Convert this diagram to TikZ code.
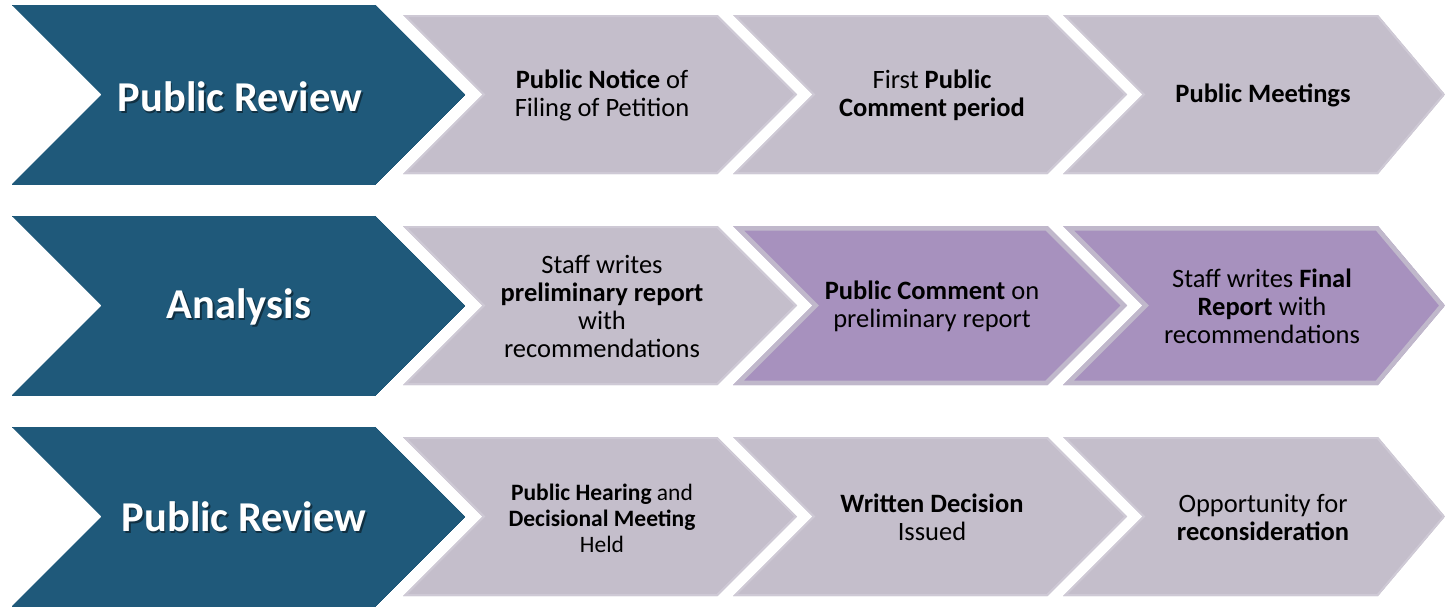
\documentclass[tikz,border=0pt]{standalone}
\usepackage{fontspec}
\setmainfont{Carlito}
\definecolor{cblue}{RGB}{31,89,122}
\definecolor{cgrey}{RGB}{196,190,203}
\definecolor{cgreyedge}{RGB}{206,201,213}
\definecolor{cpurple}{RGB}{167,145,190}
\definecolor{cpurpleedge}{RGB}{192,184,203}
% #1 fill, #2 edge colour, #3 edge width, #4 x, #5 y top, #6 width, #7 height, #8 right depth
\newcommand\chevshape[8]{%
  \fill[#1] (#4,#5) -- (#4+#6-#8,#5) -- (#4+#6,#5+#7/2) -- (#4+#6-#8,#5+#7) -- (#4,#5+#7) -- (#4+#7/2,#5+#7/2) -- cycle;
  \begin{scope}
    \clip (#4,#5) -- (#4+#6-#8,#5) -- (#4+#6,#5+#7/2) -- (#4+#6-#8,#5+#7) -- (#4,#5+#7) -- (#4+#7/2,#5+#7/2) -- cycle;
    \draw[#2, line width=#3*2pt, line join=miter] (#4,#5) -- (#4+#6-#8,#5) -- (#4+#6,#5+#7/2) -- (#4+#6-#8,#5+#7) -- (#4,#5+#7) -- (#4+#7/2,#5+#7/2) -- cycle;
  \end{scope}}
\tikzset{
  steptext/.style={align=center, inner sep=0pt, text=black, font=\fontsize{26.5}{28}\selectfont},
  smalltext/.style={align=center, inner sep=0pt, text=black, font=\fontsize{23.5}{26}\selectfont},
  phasetext/.style={inner sep=0pt, text=white, font=\fontsize{42.5}{48}\selectfont\bfseries},
  phaseshadow/.style={inner sep=0pt, text=black, opacity=0.45, font=\fontsize{42.5}{48}\selectfont\bfseries}
}
\begin{document}
\begin{tikzpicture}[x=1pt,y=-1pt]
\useasboundingbox (0,0) rectangle (1445,606);
\fill[white] (0,0) rectangle (1445,606);
% row 1
\chevshape{cblue}{cblue}{0}{12}{5}{453}{179}{89.5}
\chevshape{cgrey}{cgreyedge}{2}{403}{15}{394}{159}{79.5}
\chevshape{cgrey}{cgreyedge}{2}{733}{15}{394}{159}{79.5}
\chevshape{cgrey}{cgreyedge}{2}{1063}{15}{382}{159}{67}
% row 2
\chevshape{cblue}{cblue}{0}{12}{216}{453}{179}{89.5}
\chevshape{cgrey}{cgreyedge}{2}{403}{226}{394}{159}{79.5}
\chevshape{cpurple}{cpurpleedge}{4.5}{733}{226}{394}{159}{79.5}
\chevshape{cpurple}{cpurpleedge}{4.5}{1063}{226}{382}{159}{67}
% row 3
\chevshape{cblue}{cblue}{0}{12}{427}{453}{179}{89.5}
\chevshape{cgrey}{cgreyedge}{2}{403}{437}{394}{159}{79.5}
\chevshape{cgrey}{cgreyedge}{2}{733}{437}{394}{159}{79.5}
\chevshape{cgrey}{cgreyedge}{2}{1063}{437}{382}{159}{67}
% phase labels
\node[phaseshadow] (s1) at (241.5,98.5) {Public Review};
\node[phasetext] (b1) at (240,97) {Public Review};
\node[phaseshadow] (s2) at (240.5,308.5) {Analysis};
\node[phasetext] (b2) at (239,307) {Analysis};
\node[phaseshadow] (s3) at (245.5,518.5) {Public Review};
\node[phasetext] (b3) at (244,517) {Public Review};
% row 1 texts
\node[steptext] (t11) at (602,95) {\textbf{Public Notice} of\\Filing of Petition};
\node[steptext] (t12) at (932,95) {First \textbf{Public}\\\textbf{Comment period}};
\node[steptext] (t13) at (1263,95) {\textbf{Public Meetings}};
% row 2 texts
\node[steptext] (t21) at (602,306) {Staff writes\\\textbf{preliminary report}\\with\\recommendations};
\node[steptext] (t22) at (932,306) {\textbf{Public Comment} on\\preliminary report};
\node[steptext] (t23) at (1262,306) {Staff writes \textbf{Final}\\\textbf{Report} with\\recommendations};
% row 3 texts
\node[smalltext] (t31) at (602,518) {\textbf{Public Hearing} and\\\textbf{Decisional Meeting}\\Held};
\node[steptext] (t32) at (932,517) {\textbf{Written Decision}\\Issued};
\node[steptext] (t33) at (1263,517) {Opportunity for\\\textbf{reconsideration}};
\end{tikzpicture}
\end{document}
